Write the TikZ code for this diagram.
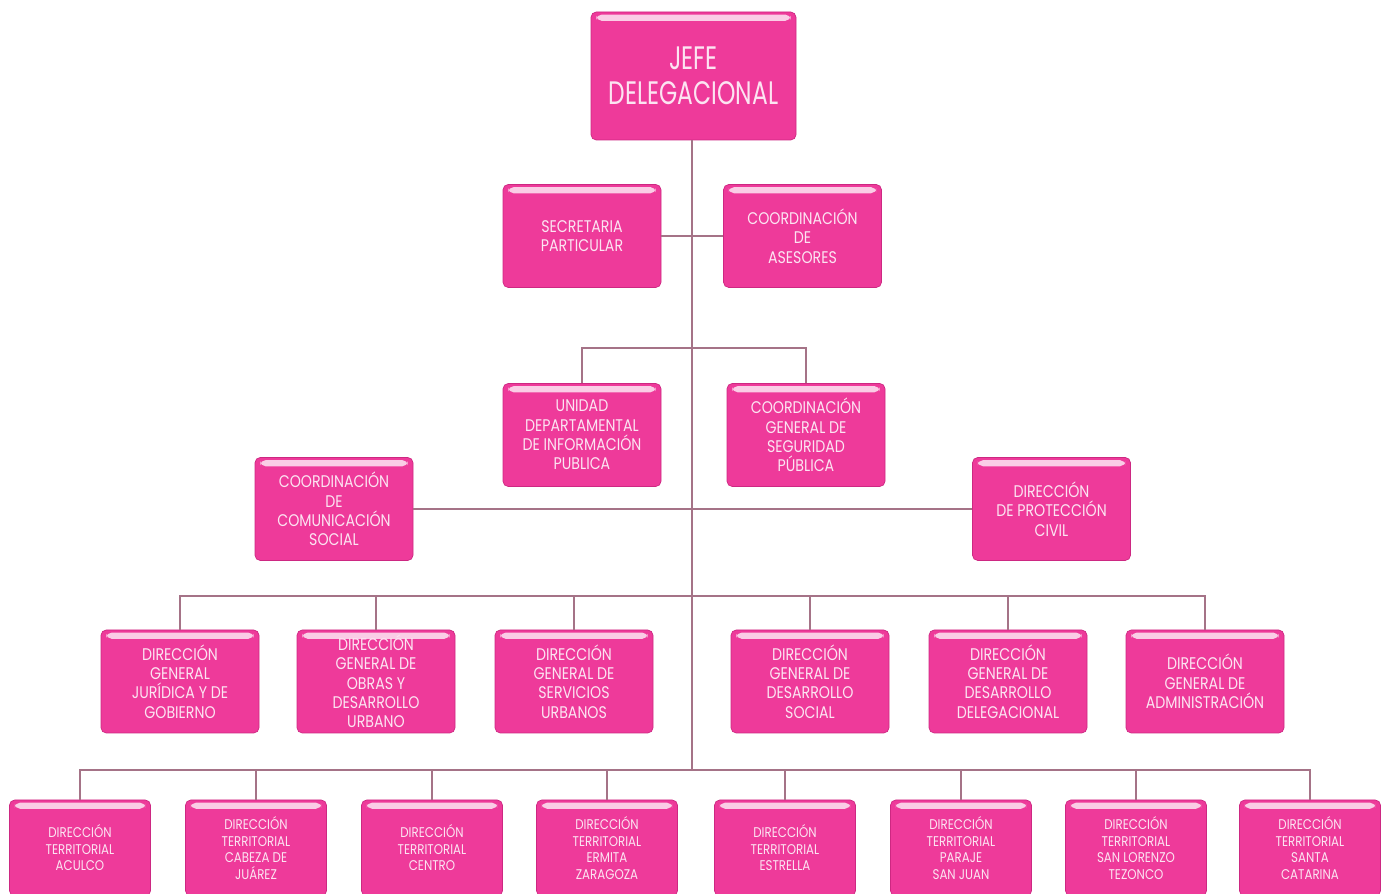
\documentclass[tikz,border=0pt]{standalone}
\usepackage{fontspec}
\setmainfont{Poppins}
\newfontfamily\headfont[FakeStretch=0.72]{Poppins}
\newfontfamily\boxfont[FakeStretch=0.84]{Poppins}
\usepackage{tikz}
\usetikzlibrary{positioning,calc}
\definecolor{orgpink}{RGB}{238, 58, 154}
\definecolor{orgedge}{RGB}{205, 40, 130}
\definecolor{orgshine}{RGB}{250, 205, 230}
\definecolor{orgtext}{RGB}{252, 228, 242}
\definecolor{orgline}{RGB}{165, 115, 135}

\begin{document}
\begin{tikzpicture}[
    line/.style={draw=orgline, line width=0.7pt},
    orgbox/.style={draw=orgedge, fill=orgpink, rounded corners=3pt, align=center,
        text=orgtext, inner sep=1pt,
        path picture={\fill[orgshine] ([xshift=3pt,yshift=-1.5pt]path picture bounding box.north west)
            rectangle ([xshift=-3pt,yshift=-5pt]path picture bounding box.north east);}},
    headbox/.style={orgbox, minimum width=4.1cm, minimum height=2.56cm,
        font=\headfont\fontsize{18.5}{20}\selectfont},
    box/.style={orgbox, minimum width=3.16cm, minimum height=2.06cm,
        font=\boxfont\fontsize{9.6}{11}\selectfont},
    smallbox/.style={orgbox, minimum width=2.82cm, minimum height=1.92cm,
        font=\boxfont\fontsize{8}{9.4}\selectfont}
]
\useasboundingbox (0,0) rectangle (27.9,-17.88);

% ===================== HEAD =====================
\node[headbox] (jefe) at (13.87,-1.52) {JEFE\\DELEGACIONAL};

\node[box] (secpart) at (11.64,-4.72) {SECRETARIA\\PARTICULAR};
\node[box] (coordases) at (16.05,-4.72) {COORDINACIÓN\\DE\\ASESORES};

% ===================== STAFF UNITS =====================
\node[box] (udip) at (11.64,-8.70) {UNIDAD\\DEPARTAMENTAL\\DE INFORMACIÓN\\PUBLICA};
\node[box] (cgsp) at (16.12,-8.70) {COORDINACIÓN\\GENERAL DE\\SEGURIDAD\\PÚBLICA};

\node[box] (ccs) at (6.68,-10.18) {COORDINACIÓN\\DE\\COMUNICACIÓN\\SOCIAL};
\node[box] (dpc) at (21.03,-10.18) {DIRECCIÓN\\DE PROTECCIÓN\\CIVIL};

% ===================== GENERAL DIRECTIONS =====================
\node[box] (dgjg) at (3.60,-13.63) {DIRECCIÓN\\GENERAL\\JURÍDICA Y DE\\GOBIERNO};
\node[box] (dgodu) at (7.52,-13.63) {DIRECCIÓN\\GENERAL DE\\OBRAS Y\\DESARROLLO\\URBANO};
\node[box] (dgsu) at (11.48,-13.63) {DIRECCIÓN\\GENERAL DE\\SERVICIOS\\URBANOS};
\node[box] (dgds) at (16.20,-13.63) {DIRECCIÓN\\GENERAL DE\\DESARROLLO\\SOCIAL};
\node[box] (dgdd) at (20.16,-13.63) {DIRECCIÓN\\GENERAL DE\\DESARROLLO\\DELEGACIONAL};
\node[box] (dga) at (24.10,-13.63) {DIRECCIÓN\\GENERAL DE\\ADMINISTRACIÓN};

% ===================== TERRITORIAL DIRECTIONS =====================
\node[smallbox] (dtacu) at (1.60,-16.96) {DIRECCIÓN\\TERRITORIAL\\ACULCO};
\node[smallbox] (dtcj) at (5.12,-16.96) {DIRECCIÓN\\TERRITORIAL\\CABEZA DE\\JUÁREZ};
\node[smallbox] (dtcen) at (8.64,-16.96) {DIRECCIÓN\\TERRITORIAL\\CENTRO};
\node[smallbox] (dtez) at (12.14,-16.96) {DIRECCIÓN\\TERRITORIAL\\ERMITA\\ZARAGOZA};
\node[smallbox] (dtest) at (15.70,-16.96) {DIRECCIÓN\\TERRITORIAL\\ESTRELLA};
\node[smallbox] (dtpsj) at (19.22,-16.96) {DIRECCIÓN\\TERRITORIAL\\PARAJE\\SAN JUAN};
\node[smallbox] (dtslt) at (22.72,-16.96) {DIRECCIÓN\\TERRITORIAL\\SAN LORENZO\\TEZONCO};
\node[smallbox] (dtsc) at (26.20,-16.96) {DIRECCIÓN\\TERRITORIAL\\SANTA\\CATARINA};

% ===================== JUNCTIONS =====================
\coordinate (jstaff) at (13.84,-6.96);
\coordinate (jgen) at (13.84,-11.92);
\coordinate (jterr) at (13.84,-15.40);

% ===================== LINES =====================
\draw[line] (jefe.south -| jterr) -- (jterr);
\draw[line] (secpart.east) -- (coordases.west);
\draw[line] (udip.north) |- (jstaff) -| (cgsp.north);
\draw[line] (ccs.east) -- (dpc.west);
\foreach \n in {dgjg,dgodu,dgsu,dgds,dgdd,dga}
    \draw[line] (\n.north) |- (jgen);
\foreach \n in {dtacu,dtcj,dtcen,dtez,dtest,dtpsj,dtslt,dtsc}
    \draw[line] (\n.north) |- (jterr);

\end{tikzpicture}
\end{document}
